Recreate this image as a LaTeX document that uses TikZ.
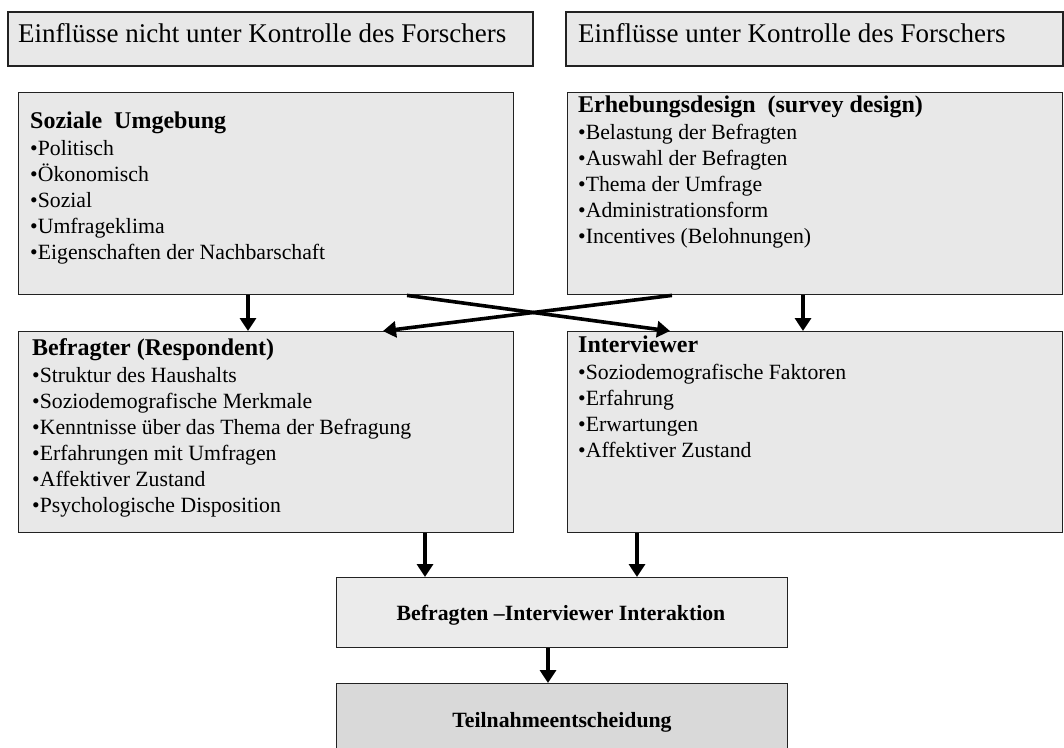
\documentclass[tikz,border=0pt]{standalone}
\usepackage{fontspec}
\setmainfont{Liberation Serif}
\usetikzlibrary{arrows.meta}
\definecolor{boxfill}{HTML}{E8E8E8}
\definecolor{ifill}{HTML}{EBEBEB}
\definecolor{dfill}{HTML}{D9D9D9}
\definecolor{edge}{HTML}{222222}
\tikzset{
  box/.style={draw=edge, line width=1.4pt, fill=boxfill},
  txt/.style={anchor=base west, inner sep=0pt},
  arr/.style={line width=3.6pt, -{Triangle[length=13pt,width=16pt]}},
}
\newcommand{\itemfont}{\fontsize{21.75}{26}\selectfont}
\newcommand{\headfont}{\fontsize{27}{30}\selectfont}
\newcommand{\boxtitle}[1]{{\fontsize{24}{26}\selectfont\bfseries #1}}
\newcommand{\blist}[2]{\parbox[t]{470pt}{\raggedright\itemfont\boxtitle{#1}\\[1pt]#2}}
\begin{document}
\begin{tikzpicture}[x=1pt,y=-1pt]
  \useasboundingbox (0,0) rectangle (1064,747);

  % column headers
  \draw[box] (8,12) rectangle (533,66);
  \node[txt, font=\headfont] (h1) at (18,42) {Einflüsse nicht unter Kontrolle des Forschers};
  \draw[box] (566,12) rectangle (1063,66);
  \node[txt, font=\headfont] (h2) at (578,42) {Einflüsse unter Kontrolle des Forschers};

  % influence boxes
  \node[box, minimum width=495pt, minimum height=202pt, anchor=north west, inner sep=0pt] (soz) at (18,92) {};
  \node[box, minimum width=495pt, minimum height=202pt, anchor=north west, inner sep=0pt] (erh) at (567,92) {};
  \node[box, minimum width=495pt, minimum height=201pt, anchor=north west, inner sep=0pt] (bef) at (18,331) {};
  \node[box, minimum width=495pt, minimum height=201pt, anchor=north west, inner sep=0pt] (itv) at (567,331) {};

  \node[txt] (sozt) at (30,128) {\blist{Soziale\ \ Umgebung}{%
    •Politisch\\ •Ökonomisch\\ •Sozial\\ •Umfrageklima\\ •Eigenschaften der Nachbarschaft}};
  \node[txt] (erht) at (578,112) {\blist{Erhebungsdesign\ \ (survey design)}{%
    •Belastung der Befragten\\ •Auswahl der Befragten\\ •Thema der Umfrage\\ •Administrationsform\\ •Incentives (Belohnungen)}};
  \node[txt] (beft) at (32,355) {\blist{Befragter (Respondent)}{%
    •Struktur des Haushalts\\ •Soziodemografische Merkmale\\ •Kenntnisse über das Thema der Befragung\\ •Erfahrungen mit Umfragen\\ •Affektiver Zustand\\ •Psychologische Disposition}};
  \node[txt] (itvt) at (578,352) {\blist{Interviewer}{%
    •Soziodemografische Faktoren\\ •Erfahrung\\ •Erwartungen\\ •Affektiver Zustand}};

  % interaction and decision
  \node[box, fill=ifill, minimum width=451pt, minimum height=70pt, anchor=north west, inner sep=0pt] (ia) at (336,577) {};
  \node[anchor=base, inner sep=0pt, font=\fontsize{21.75}{24}\selectfont\bfseries] (iat) at (561,620) {Befragten –Interviewer Interaktion};
  \node[box, fill=dfill, minimum width=451pt, minimum height=80pt, anchor=north west, inner sep=0pt] (tn) at (336,683) {};
  \node[anchor=base, inner sep=0pt, font=\fontsize{21.75}{24}\selectfont\bfseries] (tnt) at (562,727) {Teilnahmeentscheidung};

  % connectors
  \coordinate (xa) at (248,0);
  \coordinate (xb) at (803,0);
  \coordinate (xc) at (407,0);
  \coordinate (xd) at (670,0);
  \coordinate (xe) at (672,0);
  \coordinate (xf) at (383,0);
  \coordinate (xg) at (425,0);
  \coordinate (xh) at (637,0);
  \coordinate (xi) at (548,0);
  \draw[arr] (soz.south -| xa) -- (bef.north -| xa);
  \draw[arr] (erh.south -| xb) -- (itv.north -| xb);
  \draw[arr] (soz.south -| xc) -- (itv.north -| xd);
  \draw[arr] (erh.south -| xe) -- (bef.north -| xf);
  \draw[arr] (bef.south -| xg) -- (ia.north -| xg);
  \draw[arr] (itv.south -| xh) -- (ia.north -| xh);
  \draw[arr] (ia.south -| xi) -- (tn.north -| xi);
\end{tikzpicture}
\end{document}
